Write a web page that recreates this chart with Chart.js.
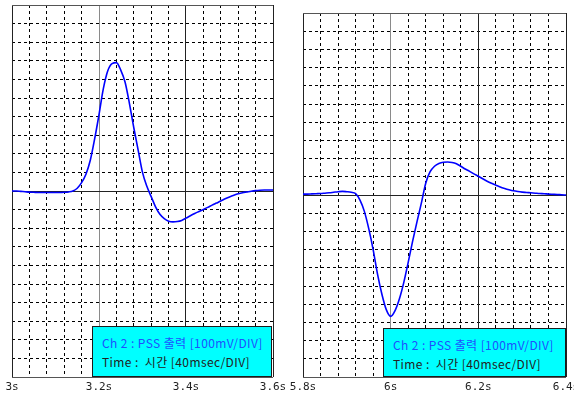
<!DOCTYPE html>
<html>
<head>
<meta charset="utf-8">
<script src="https://cdn.jsdelivr.net/npm/chart.js@4"></script>
<style>
    body { margin: 0; background: #fff; }
    #wrap { position: relative; width: 574px; height: 396px; overflow: hidden; }
    canvas { position: absolute; top: 0; }
    #scopeIzq { left: 0; }
    #scopeDer { left: 290px; }
    .nota {
        position: absolute;
        box-sizing: border-box;
        background: #00ffff;
        border: 1.5px solid #1c1c1c;
        font-family: "Noto Sans CJK KR", "Noto Sans", sans-serif;
        font-size: 12px;
        letter-spacing: 0.4px;
        line-height: 19px;
        padding: 6px 0 0 9px;
        white-space: nowrap;
    }
    .nota .l1 { color: #1f4fff; }
    .nota .l2 { color: #222; }
</style>
</head>
<body>
<div id="wrap">
    <canvas id="scopeIzq" width="290" height="396"></canvas>
    <canvas id="scopeDer" width="284" height="396"></canvas>
    <div class="nota" style="left:92px; top:326px; width:180px; height:51px;">
        <div class="l1">Ch 2 : PSS 출력 [100mV/DIV]</div>
        <div class="l2">Time :&nbsp; 시간 [40msec/DIV]</div>
    </div>
    <div class="nota" style="left:383px; top:328px; width:183px; height:49px;">
        <div class="l1">Ch 2 : PSS 출력 [100mV/DIV]</div>
        <div class="l2">Time :&nbsp; 시간 [40msec/DIV]</div>
    </div>
</div>
<script>
const tiempoIzq = [3.00, 3.01, 3.02, 3.03, 3.04, 3.05, 3.06, 3.07, 3.08, 3.09,
    3.10, 3.11, 3.12, 3.13, 3.14, 3.15, 3.16, 3.17, 3.18, 3.19,
    3.20, 3.21, 3.22, 3.23, 3.24, 3.25, 3.26, 3.27, 3.28, 3.29,
    3.30, 3.31, 3.32, 3.33, 3.34, 3.35, 3.36, 3.37, 3.38, 3.39,
    3.40, 3.41, 3.42, 3.43, 3.44, 3.45, 3.46, 3.47, 3.48, 3.49,
    3.50, 3.51, 3.52, 3.53, 3.54, 3.55, 3.56, 3.57, 3.58, 3.59, 3.60];
const salidaIzq = [0, 0, -2, -4, -6, -7, -8, -8, -8, -8,
    -8, -8, -7, -5, 0, 15, 45, 90, 165, 280,
    410, 550, 645, 685, 690, 650, 585, 470, 340, 220,
    100, 25, -30, -85, -125, -148, -162, -166, -164, -158,
    -146, -133, -121, -110, -99, -88, -76, -65, -54, -42,
    -32, -23, -15, -9, -5, -1, 2, 4, 5, 5, 5];

const tiempoDer = [5.80, 5.81, 5.82, 5.83, 5.84, 5.85, 5.86, 5.87, 5.88, 5.89,
    5.90, 5.91, 5.92, 5.93, 5.94, 5.95, 5.96, 5.97, 5.98, 5.99,
    6.00, 6.01, 6.02, 6.03, 6.04, 6.05, 6.06, 6.07, 6.08, 6.09,
    6.10, 6.11, 6.12, 6.13, 6.14, 6.15, 6.16, 6.17, 6.18, 6.19,
    6.20, 6.21, 6.22, 6.23, 6.24, 6.25, 6.26, 6.27, 6.28, 6.29,
    6.30, 6.31, 6.32, 6.33, 6.34, 6.35, 6.36, 6.37, 6.38, 6.39, 6.40];
const salidaDer = [5, 5, 6, 7, 8, 10, 12, 15, 18, 20,
    18, 15, 8, -28, -90, -185, -300, -435, -545, -630,
    -667, -635, -570, -480, -370, -255, -148, -45, 65, 128,
    158, 173, 180, 181, 179, 172, 158, 143, 130, 116,
    103, 89, 76, 64, 54, 44, 36, 29, 23, 19,
    16, 14, 12, 10, 8, 7, 5, 4, 3, 1, 0];

const ticksIzq = [3, 3.2, 3.4, 3.6];
const etiquetasIzq = ["3s", "3.2s", "3.4s", "3.6s"];
const ticksDer = [5.8, 6, 6.2, 6.4];
const etiquetasDer = ["5.8s", "6s", "6.2s", "6.4s"];
const ticksY = [-1000, 0, 1000];

// cuadricula: 40 ms por division en X, 100 mV por division en Y
const DIV_X = 0.04;
const DIV_Y = 100;

function dibujarScope(id, tiempos, valores, ticksX, etiquetasX, pad) {
    const xMin = ticksX[0];
    const xMax = ticksX[ticksX.length - 1];
    const nx = Math.round((xMax - xMin) / DIV_X);
    const menoresX = [];
    for (let i = 0; i <= nx; i++) menoresX.push(xMin + i * DIV_X);
    const menoresY = [];
    for (let v = ticksY[0]; v <= ticksY[ticksY.length - 1]; v += DIV_Y) menoresY.push(v);

    const ctx = document.getElementById(id).getContext("2d");
    return new Chart(ctx, {
        type: "line",
        data: {
            datasets: [{
                data: tiempos.map((t, i) => ({ x: t, y: valores[i] })),
                borderColor: "#0000ff",
                borderWidth: 1.6,
                pointRadius: 0,
                cubicInterpolationMode: "monotone",
                fill: false,
                xAxisID: "x",
                yAxisID: "y",
            }],
        },
        options: {
            responsive: false,
            animation: false,
            events: [],
            layout: { padding: pad },
            plugins: { legend: { display: false }, tooltip: { enabled: false } },
            scales: {
                xMenor: {
                    type: "linear", position: "bottom", min: xMin, max: xMax,
                    afterBuildTicks: s => { s.ticks = menoresX.map(v => ({ value: v })); },
                    ticks: { display: false },
                    grid: {
                        drawTicks: false, lineWidth: 1, borderDash: [3, 3],
                        color: c => (c.index % 5 === 0 ? "rgba(0,0,0,0)" : "#000"),
                    },
                    border: { display: false, dash: [3, 3] },
                    afterFit: s => { s.height = 0; s.paddingLeft = 0; s.paddingRight = 0; },
                },
                yMenor: {
                    type: "linear", position: "left", min: ticksY[0], max: ticksY[ticksY.length - 1],
                    afterBuildTicks: s => { s.ticks = menoresY.map(v => ({ value: v })); },
                    ticks: { display: false },
                    grid: {
                        drawTicks: false, lineWidth: 1, borderDash: [3, 3],
                        color: c => (c.index % 10 === 0 ? "rgba(0,0,0,0)" : "#000"),
                    },
                    border: { display: false, dash: [3, 3] },
                    afterFit: s => { s.width = 0; s.paddingTop = 0; s.paddingBottom = 0; },
                },
                x: {
                    type: "linear", position: "bottom", min: xMin, max: xMax,
                    afterBuildTicks: s => { s.ticks = ticksX.map(v => ({ value: v })); },
                    ticks: {
                        autoSkip: false, maxRotation: 0, padding: 4, color: "#222",
                        font: { family: "DejaVu Sans Mono", size: 11 },
                        callback: (v, i) => etiquetasX[i],
                    },
                    grid: {
                        drawTicks: false, lineWidth: 1,
                        color: c => (c.index === 1 ? "#8a8a8a" : "#222"),
                    },
                    border: { display: false },
                    afterFit: s => { s.height = 19; s.paddingLeft = 0; s.paddingRight = 0; },
                },
                y: {
                    type: "linear", position: "left", min: ticksY[0], max: ticksY[ticksY.length - 1],
                    afterBuildTicks: s => { s.ticks = ticksY.map(v => ({ value: v })); },
                    ticks: { display: false },
                    grid: {
                        drawTicks: false, lineWidth: 1,
                        color: c => (c.index === 1 ? "#222" : "#555"),
                    },
                    border: { display: false },
                    afterFit: s => { s.width = 0; s.paddingTop = 0; s.paddingBottom = 0; },
                },
            },
        },
    });
}

dibujarScope("scopeIzq", tiempoIzq, salidaIzq, ticksIzq, etiquetasIzq,
    { left: 12, right: 17, top: 5, bottom: 0 });
dibujarScope("scopeDer", tiempoDer, salidaDer, ticksDer, etiquetasDer,
    { left: 13, right: 8, top: 13, bottom: 0 });
</script>
</body>
</html>
